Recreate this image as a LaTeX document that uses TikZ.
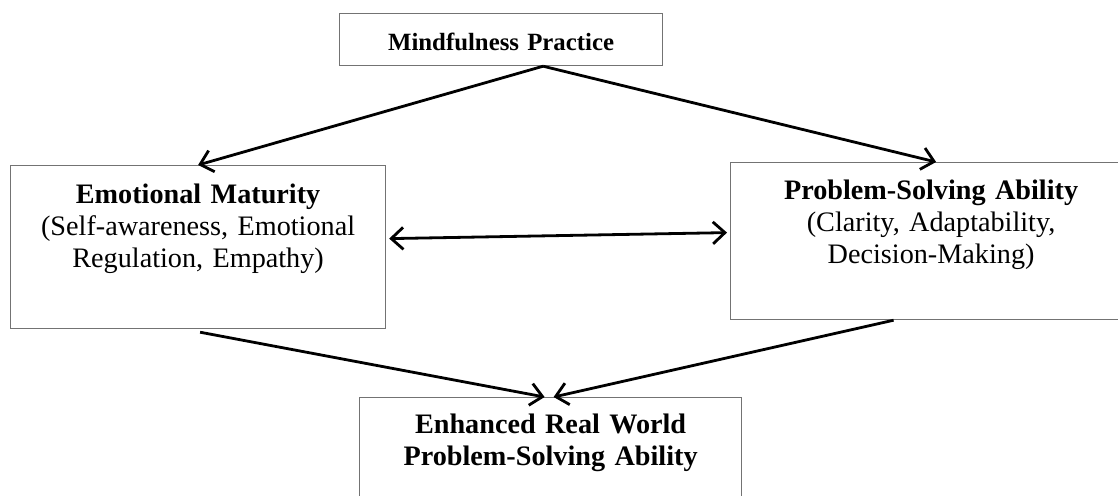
\documentclass[tikz,border=0pt]{standalone}
\usepackage{fontspec}
\setmainfont{Liberation Serif}
\usetikzlibrary{arrows.meta}

\begin{document}
\begin{tikzpicture}[x=0.5pt, y=-0.5pt,
		>={Straight Barb[length=6pt,width=11pt]},
		box/.style={draw=black!55, line width=0.6pt, inner sep=0pt, align=center, anchor=north west, font=\fontsize{14.1}{16}\selectfont},
		link/.style={line width=1.4pt, ->}]
			%%%%% START %%%%%
			
			\useasboundingbox (0, 0) rectangle (1118, 495);
			\clip (0, 0) rectangle (1118, 495);
			
			\node[box, font=\fontsize{12.4}{14}\selectfont, text width=161.5pt, text height=18.5pt, text depth=7.5pt] (mind) at (339, 13) {\textbf{Mindfulness Practice}};
			
			\node[box, text width=187.5pt, text height=19pt, text depth=62.5pt] (emo) at (10, 165) {\textbf{Emotional Maturity}\\(Self-awareness, Emotional\\Regulation, Empathy)};
			
			\node[box, text width=200.5pt, text height=18.5pt, text depth=60pt] (prob) at (730, 162) {\textbf{Problem-Solving Ability}\\(Clarity, Adaptability,\\Decision-Making)};
			
			\node[box, text width=191pt, text height=18pt, text depth=60pt] (enh) at (359, 397) {\textbf{Enhanced Real World}\\\textbf{Problem-Solving Ability}};
			
			\draw[link] ([xshift=21pt]mind.south) -- (emo.north);
			\draw[link] ([xshift=21pt]mind.south) -- ([xshift=2.5pt]prob.north);
			
			\draw[link, <->] ([xshift=1.5pt, yshift=4.25pt]emo.east) -- ([xshift=-1.5pt, yshift=4.25pt]prob.west);
			
			\draw[link] ([xshift=1pt, yshift=-1.5pt]emo.south) -- ([xshift=-3pt]enh.north);
			\draw[link] ([xshift=-18.75pt]prob.south) -- ([xshift=1.5pt]enh.north);
			
			%%%%% END %%%%%
		\end{tikzpicture}
\end{document}
